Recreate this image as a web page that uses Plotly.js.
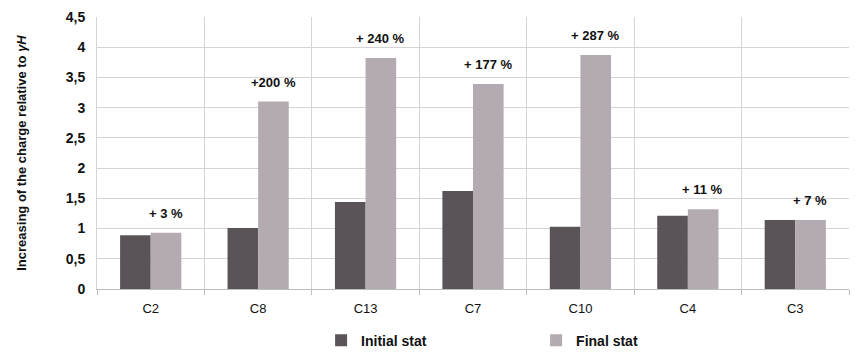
<!DOCTYPE html>
<html>
<head>
<meta charset="utf-8">
<script src="https://cdn.plot.ly/plotly-3.0.1.min.js"></script>
<style>
  body { margin: 0; background: #fff; }
  #chart { width: 862px; height: 357px; }
</style>
</head>
<body>
<div id="chart"></div>
<script>
"use strict";

// columns in the order they appear
var columns = ["C2", "C8", "C13", "C7", "C10", "C4", "C3"];
var initialStat = [0.89, 1.01, 1.44, 1.62, 1.03, 1.21, 1.14];
var finalStat = [0.93, 3.10, 3.82, 3.39, 3.87, 1.32, 1.14];
var changeLabels = ["+ 3 %", "+200 %", "+ 240 %", "+ 177 %", "+ 287 %", "+ 11 %", "+ 7 %"];

var fontFam = "'Liberation Sans Narrow', 'Liberation Sans', Arial, sans-serif";

var traceInitial = {
    x: columns,
    y: initialStat,
    type: "bar",
    name: "Initial stat",
    marker: { color: "#5a5459" },
    hoverinfo: "y"
};

var traceFinal = {
    x: columns,
    y: finalStat,
    type: "bar",
    name: "Final stat",
    marker: { color: "#b4abb2" },
    hoverinfo: "y"
};

var notes = [];
for (var i = 0; i < columns.length; i++) {
    notes.push({
        x: columns[i],
        y: finalStat[i],
        text: changeLabels[i],
        showarrow: false,
        xshift: 15,
        yshift: 10,
        yanchor: "bottom",
        font: { family: fontFam, size: 13, color: "#111", weight: "bold" }
    });
}

var layout = {
    width: 862,
    height: 357,
    margin: { l: 97, r: 13, t: 17, b: 68, autoexpand: false },
    paper_bgcolor: "#fff",
    plot_bgcolor: "#fff",
    separators: ", ",
    barmode: "group",
    bargap: 0.43,
    bargroupgap: 0,
    font: { family: fontFam, color: "#111" },
    xaxis: {
        type: "category",
        tickson: "boundaries",
        showgrid: true,
        gridcolor: "#d4d4d4",
        showline: true,
        linecolor: "#bdbdbd",
        ticks: "outside",
        ticklen: 5,
        tickcolor: "#bdbdbd",
        ticklabelstandoff: 7,
        tickfont: { family: fontFam, size: 13, color: "#111" },
        automargin: false,
        fixedrange: true
    },
    yaxis: {
        range: [0, 4.5],
        dtick: 0.5,
        showgrid: true,
        gridcolor: "#d4d4d4",
        showline: true,
        linecolor: "#d4d4d4",
        zeroline: false,
        ticks: "",
        ticklabelstandoff: 8,
        tickfont: { family: fontFam, size: 14, color: "#111", weight: "bold" },
        title: {
            text: "Increasing of the charge relative to <i>γH</i>",
            font: { family: fontFam, size: 13, color: "#111", weight: "bold" },
            standoff: 36
        },
        automargin: false,
        fixedrange: true
    },
    showlegend: true,
    legend: {
        orientation: "h",
        x: 0.298,
        xanchor: "left",
        y: -0.19,
        yanchor: "middle",
        entrywidth: 170,
        font: { family: fontFam, size: 14, color: "#111", weight: "bold" },
        itemclick: false
    },
    annotations: notes
};

Plotly.newPlot("chart", [traceInitial, traceFinal], layout, { displayModeBar: false, staticPlot: true });
</script>
</body>
</html>
